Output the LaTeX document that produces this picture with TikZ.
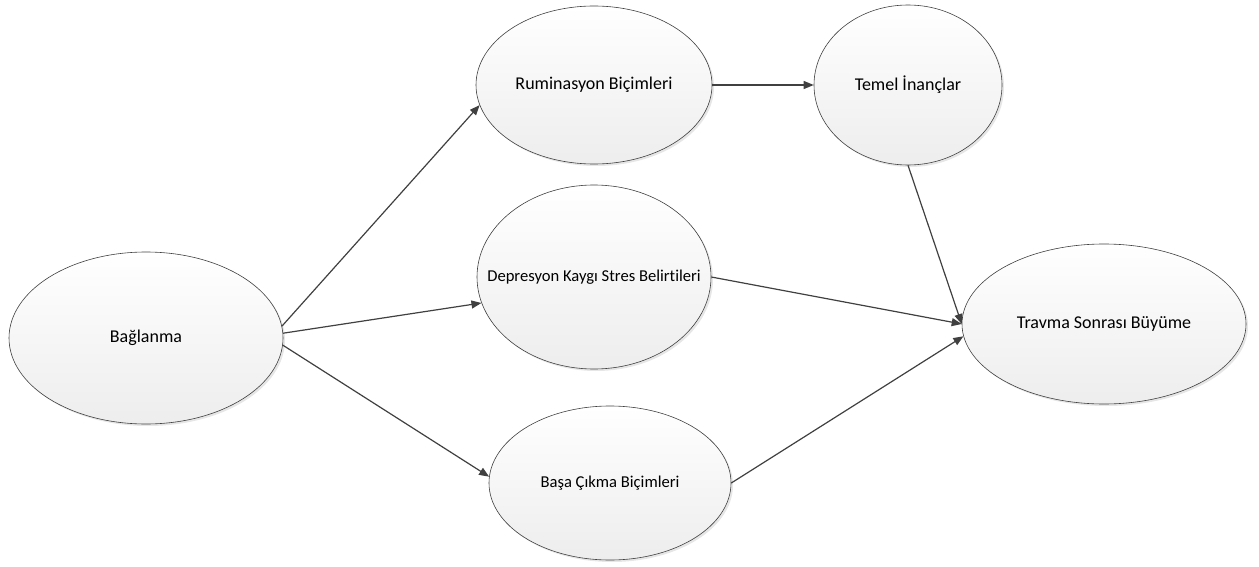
\documentclass[tikz,border=0pt]{standalone}
\usepackage{fontspec}
\setmainfont{Carlito}[Ligatures=NoCommon]
\usetikzlibrary{shapes.geometric,arrows.meta,shadows}
\definecolor{edgegray}{HTML}{404040}
\tikzset{
  ell/.style={ellipse, draw=edgegray, line width=0.6pt, inner sep=0pt,
    top color=white, bottom color=black!7,
    drop shadow={shadow xshift=2pt, shadow yshift=-2pt, opacity=0.2, fill=black!50},
    font=\fontsize{18}{20}\selectfont},
  small/.style={font=\fontsize{16.6}{19}\selectfont},
  link/.style={draw=edgegray, line width=1.2pt, -{Triangle[length=10pt,width=8pt]}}
}
\newcommand{\ctr}[1]{\makebox[0pt][c]{#1}}
\begin{document}
\begin{tikzpicture}[x=1pt,y=-1pt]
\useasboundingbox (0,0) rectangle (1259,567);
% the six concept ellipses
\node[ell, minimum width=274, minimum height=172] (bag) at (146,338) {\ctr{Bağlanma}};
\node[ell, minimum width=236, minimum height=158] (rum) at (594,85) {\ctr{Ruminasyon Biçimleri}};
\node[ell, minimum width=188, minimum height=160] (tem) at (908,85) {\ctr{Temel İnançlar}};
\node[ell, small, minimum width=234, minimum height=184] (dep) at (594,277) {\ctr{Depresyon Kaygı Stres Belirtileri}};
\node[ell, small, minimum width=242, minimum height=154] (basa) at (610,483) {\ctr{Başa Çıkma Biçimleri}};
\node[ell, minimum width=284, minimum height=160] (trav) at (1104,324) {\ctr{Travma Sonrası Büyüme}};

% directed links
\draw[link] (bag.5) -- (rum.190);
\draw[link] (bag.2) -- (dep.193);
\draw[link] (bag.-3) -- (basa.177);
\draw[link] (rum.east) -- (tem.west);
\draw[link] (tem.south) -- (trav.west);
\draw[link] (dep.east) -- (trav.west);
\draw[link] (basa.east) -- (trav.185);
\end{tikzpicture}
\end{document}
